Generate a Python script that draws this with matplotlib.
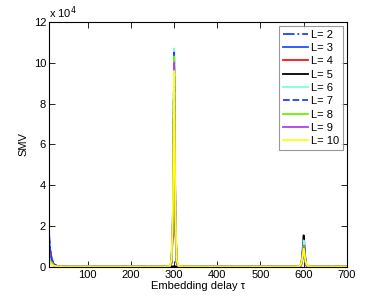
import matplotlib
matplotlib.use("Agg")
import matplotlib.pyplot as plt
import numpy as np

plt.rcParams['font.family'] = ['Liberation Sans', 'DejaVu Sans']

# Embedding delay samples
tau = [10, 13, 16, 20, 25, 30, 40, 100, 200, 280, 290, 294, 297, 299, 300, 301, 303, 306, 310, 320,
       400, 500, 580, 590, 594, 597, 599, 600, 601, 603, 606, 610, 620, 700]

labels = ['L= 2', 'L= 3', 'L= 4', 'L= 5', 'L= 6', 'L= 7', 'L= 8', 'L= 9', 'L= 10']

# SMV values for each L
smv_L2 = [17000, 9000, 4500, 2000, 900, 500, 300, 250, 250, 250, 300, 2000, 20000, 70000, 103000, 70000, 20000, 2000, 400, 250,
          250, 250, 250, 300, 800, 4000, 9000, 11000, 9000, 4000, 800, 300, 250, 250]
smv_L3 = [14000, 8000, 4000, 1800, 800, 450, 300, 250, 250, 250, 300, 2200, 21000, 72000, 105000, 72000, 21000, 2200, 400, 250,
          250, 250, 250, 300, 800, 4200, 9500, 11500, 9500, 4200, 800, 300, 250, 250]
smv_L4 = [11000, 6500, 3500, 1500, 700, 400, 300, 250, 250, 250, 300, 1800, 18000, 62000, 90000, 62000, 18000, 1800, 400, 250,
          250, 250, 250, 300, 900, 4500, 10500, 12500, 10500, 4500, 900, 300, 250, 250]
smv_L5 = [6000, 3500, 2000, 1000, 500, 300, 250, 200, 200, 200, 220, 260, 300, 320, 330, 320, 300, 260, 220, 200,
          200, 200, 200, 300, 1200, 6000, 13000, 15500, 13000, 6000, 1200, 300, 200, 200]
smv_L6 = [7000, 4000, 2200, 1100, 550, 350, 280, 250, 250, 250, 320, 2400, 22000, 75000, 107000, 75000, 22000, 2400, 420, 260,
          250, 250, 250, 300, 850, 4300, 10000, 13000, 10000, 4300, 850, 300, 250, 250]
smv_L7 = [15000, 8500, 4200, 1900, 850, 480, 300, 250, 250, 250, 310, 2300, 21500, 73000, 105000, 73000, 21500, 2300, 410, 250,
          250, 250, 250, 300, 820, 4100, 9300, 11000, 9300, 4100, 820, 300, 250, 250]
smv_L8 = [5000, 3000, 1800, 900, 450, 300, 250, 250, 250, 250, 330, 2500, 23000, 74000, 103000, 74000, 23000, 2500, 430, 260,
          250, 250, 250, 320, 900, 4000, 8500, 10000, 8500, 4000, 900, 320, 250, 250]
smv_L9 = [4000, 2500, 1500, 800, 400, 300, 250, 250, 250, 250, 340, 2600, 23500, 72000, 100000, 72000, 23500, 2600, 440, 260,
          250, 250, 250, 330, 950, 3900, 8000, 9500, 8000, 3900, 950, 330, 250, 250]
smv_L10 = [4000, 2400, 1400, 750, 400, 300, 250, 250, 250, 250, 400, 3500, 26000, 70000, 96000, 70000, 26000, 3500, 500, 280,
           250, 250, 250, 400, 1500, 4500, 7500, 9000, 7500, 4500, 1500, 400, 250, 250]

series = [smv_L2, smv_L3, smv_L4, smv_L5, smv_L6, smv_L7, smv_L8, smv_L9, smv_L10]
colors = ['#1f3fff', '#2050ff', '#ff1010', '#000000', '#7fffd4', '#2040ff', '#70f000', '#b040f0', '#ffff10']
styles = ['-.', '-', '-', '-', '-', '--', '-', '-', '-']

fig = plt.figure(figsize=(3.82, 3.0), dpi=100)
ax = fig.add_axes([0.128, 0.11, 0.78, 0.817])

x = np.array(tau)
for vals, c, ls, lab in zip(series, colors, styles, labels):
    ax.plot(x, np.array(vals) / 1e4, color=c, ls=ls, lw=1.3, label=lab)

ax.set_xlim(10, 700)
ax.set_ylim(0, 12)
ax.set_xticks([100, 200, 300, 400, 500, 600, 700])
ax.set_yticks([0, 2, 4, 6, 8, 10, 12])
ax.tick_params(direction='in', top=True, right=True, labelsize=8, length=4, width=0.6, pad=2)
for s in ax.spines.values():
    s.set_linewidth(0.8)
ax.set_xlabel('Embedding delay τ', fontsize=8, labelpad=1)
ax.set_ylabel('SMV', fontsize=8, labelpad=4)
ax.text(0.0, 1.005, r'x 10$^4$', transform=ax.transAxes, fontsize=8, ha='left', va='bottom')

leg = ax.legend(loc='upper right', fontsize=8, frameon=True, fancybox=False,
                edgecolor='#808080', handlelength=2.2, handletextpad=0.3,
                labelspacing=0.3, borderpad=0.35, borderaxespad=0.35)
leg.get_frame().set_linewidth(0.8)

fig.savefig('out.png', dpi=100)
